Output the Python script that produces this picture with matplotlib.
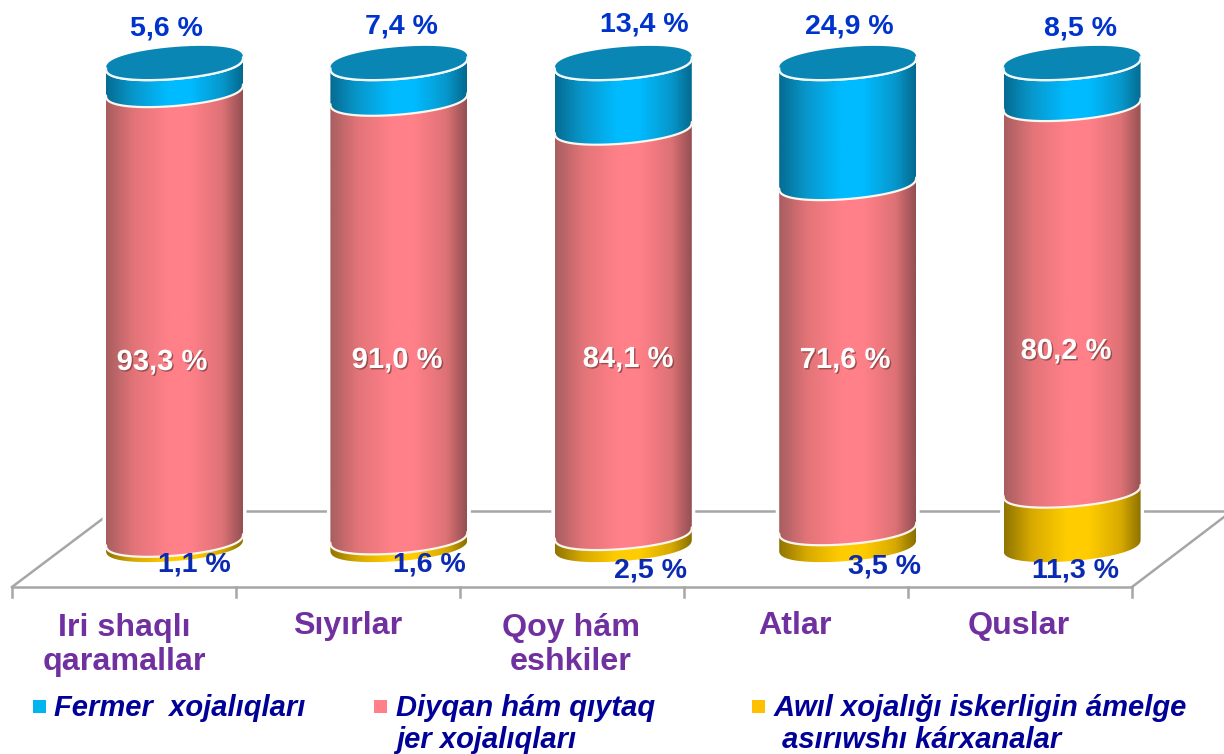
#!/usr/bin/python3

import numpy as np
from matplotlib import pyplot as plt
from matplotlib import patheffects as pe
from matplotlib.colors import LinearSegmentedColormap
from matplotlib.patches import PathPatch, Polygon, Rectangle
from matplotlib.path import Path
from matplotlib.transforms import Affine2D

plt.rcParams['font.family'] = ['Liberation Sans', 'DejaVu Sans']

W, H = 1224, 754

# data, percent
categories = ['Iri shaqlı\nqaramallar', 'Sıyırlar', 'Qoy hám\neshkiler', 'Atlar', 'Quslar']
fermer = [5.6, 7.4, 13.4, 24.9, 8.5]
diyqan = [93.3, 91.0, 84.1, 71.6, 80.2]
awil = [1.1, 1.6, 2.5, 3.5, 11.3]
legend_labels = ['Fermer  xojalıqları', 'Diyqan hám qıytaq\njer xojalıqları',
                 'Awıl xojalığı iskerligin ámelge\n asırıwshı kárxanalar']

# layout, in pixels of the reference
x0_px, dx_px = 174.5, 224.4     # first bar centre, bar spacing
y0_px, y100_px = 545.0, 63.0    # ellipse centre at 0 % and 100 %
half_w_px, tilt_px, half_h_px = 68.5, 5.5, 16.0
ppu = (y0_px - y100_px) / 100.0

top_pos = [(166, 29), (401, 27), (644, 25), (849, 26), (1080, 28)]
mid_pos = [(162, 362), (397, 360), (628, 359), (845, 360), (1066, 351)]
low_pos = [(194, 565), (429, 564), (651, 570), (884, 567), (1075, 570)]
cat_pos = [(124, 645), (348, 626), (571, 645), (795, 626), (1019, 626)]

blue_cm = LinearSegmentedColormap.from_list('b', [(0, '#056C93'), (0.2, '#0898CC'), (0.45, '#00BBFF'), (0.62, '#00BBFF'), (0.85, '#0798CC'), (1, '#046A90')])
red_cm = LinearSegmentedColormap.from_list('r', [(0, '#A85E60'), (0.2, '#E27478'), (0.45, '#FF8088'), (0.62, '#FF8088'), (0.85, '#DE7276'), (1, '#945052')])
gold_cm = LinearSegmentedColormap.from_list('y', [(0, '#8F7400'), (0.2, '#D8AA00'), (0.45, '#FFCC00'), (0.62, '#FFCC00'), (0.85, '#D8AA00'), (1, '#8A7000')])

fig = plt.figure(figsize=(W / 100, H / 100), dpi=100)
ax = fig.add_axes([0, 0, 1, 1])
ax.axis('off')

# top-left pixel coordinates of the reference
px = Affine2D().scale(1 / W, -1 / H).translate(0, 1) + fig.transFigure

a = half_w_px / dx_px
s = tilt_px / ppu
b = half_h_px / ppu
t_front = np.linspace(np.pi, 2 * np.pi, 60)
t_full = np.linspace(0, 2 * np.pi, 160)


def ring(i, v, t):
    # tilted ellipse at height v, blunter at the ends than a true one
    sn = np.sin(t)
    return i + a * np.cos(t), v + s * np.cos(t) + b * np.sign(sn) * np.abs(sn) ** 0.8


def segment(i, v0, v1, cmap):
    xt, yt = ring(i, v1, t_front)
    xb, yb = ring(i, v0, t_front)
    pts = np.vstack([np.column_stack([xt, yt]), np.column_stack([xb[::-1], yb[::-1]])])
    patch = Polygon(pts, closed=True, fc='none', ec='none', zorder=3)
    ax.add_patch(patch)
    grad = np.linspace(0, 1, 128).reshape(1, -1)
    im = ax.imshow(grad, cmap=cmap, aspect='auto', zorder=3,
                   extent=[i - a, i + a, v0 - b - s, v1 + b + s])
    im.set_clip_path(patch)
    ax.plot(xt, yt, color='#FBF6EE', lw=1.6, zorder=4, solid_capstyle='round')


# floor of the 3D chart
floor = [([105, 1224], [511, 511]), ([12, 1132], [587, 587]),
         ([12, 105], [587, 517]), ([1132, 1224], [587, 517])]
floor += [([12 + 224 * k] * 2, [587, 597]) for k in range(6)]
for xs, ys in floor:
    ax.plot(xs, ys, color='#A6A6A6', lw=1.8, zorder=1, transform=px, clip_on=False)

for i in range(len(categories)):
    v1 = awil[i]
    v2 = v1 + diyqan[i]
    v3 = v2 + fermer[i]

    # white halo that interrupts the floor line
    xb, yb = ring(i, 0, t_front)
    xt, yt = ring(i, v3, t_front)
    halo = np.vstack([np.column_stack([xb, yb]), np.column_stack([xt[::-1], yt[::-1]])])
    ax.add_patch(Polygon(halo, closed=True, fc='white', ec='white', lw=5, zorder=2))

    segment(i, 0, v1, gold_cm)
    segment(i, v1, v2, red_cm)
    segment(i, v2, v3, blue_cm)

    # closed top of the stack
    verts = np.column_stack(ring(i, v3, t_full))
    ax.add_patch(PathPatch(Path(verts), fc='#0A86B4', ec='none', zorder=4))
    ax.plot(*ring(i, v3, t_front), color='#F4FAFC', lw=1.6, zorder=5)

ax.set_xlim(-x0_px / dx_px, (W - x0_px) / dx_px)
ax.set_ylim((y0_px - H) / ppu, y0_px / ppu)


def px_text(x, y, txt, **kw):
    return fig.text(x / W, 1 - y / H, txt, ha='center', va='center', fontweight='bold', **kw)


def pct(v):
    return f'{v:.1f} %'.replace('.', ',')


for i in range(len(categories)):
    px_text(*top_pos[i], pct(fermer[i]), color='#0033CC', fontsize=20.5, zorder=6)
    px_text(*mid_pos[i], pct(diyqan[i]), color='white', fontsize=21, zorder=6,
            path_effects=[pe.withSimplePatchShadow(offset=(1, -1), shadow_rgbFace='#7A3A3A', alpha=0.7)])
    px_text(*low_pos[i], pct(awil[i]), color='#0A2AB4', fontsize=20.5, zorder=6)
    px_text(*cat_pos[i], categories[i], color='#7030A0', fontsize=23.2, linespacing=1.17, zorder=6)

# legend
leg_sq = [33, 374, 752]
leg_tx = [54, 396, 774]
leg_colors = ['#00B4F0', '#FF8088', '#FFC000']
for k in range(3):
    fig.add_artist(Rectangle((leg_sq[k] / W, 1 - 713 / H), 13 / W, 13 / H, transform=fig.transFigure,
                             fc=leg_colors[k], ec='none'))
    fig.text(leg_tx[k] / W, 1 - 694 / H, legend_labels[k], ha='left', va='top', color='#000099',
             fontweight='bold', fontstyle='italic', fontsize=21, linespacing=1.16)

fig.savefig('out.png', dpi=100)
